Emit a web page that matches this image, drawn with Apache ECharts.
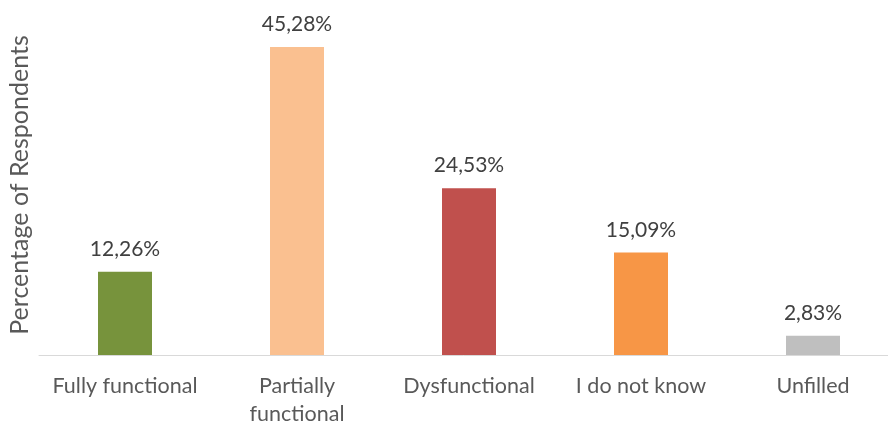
<!DOCTYPE html>
<html>
<head>
<meta charset="utf-8">
<script src="https://cdn.jsdelivr.net/npm/echarts@6/dist/echarts.min.js"></script>
<style>
  html, body { margin: 0; padding: 0; background: #fff; }
  #chart { width: 888px; height: 428px; }
</style>
</head>
<body>
<div id="chart"></div>
<script>
// Status of the system as reported by respondents
const categories = ['Fully functional', 'Partially\nfunctional', 'Dysfunctional', 'I do not know', 'Unfilled'];
const shares = [12.26, 45.28, 24.53, 15.09, 2.83];
const barColors = ['#77933C', '#FAC090', '#C0504D', '#F79646', '#BFBFBF'];

const FONT = 'Lato, "Open Sans", sans-serif';

const chart = echarts.init(document.getElementById('chart'), null, { renderer: 'canvas' });

chart.setOption({
  animation: false,
  grid: { left: 39, top: 15, width: 860, height: 340, containLabel: false, outerBoundsMode: 'none' },
  xAxis: {
    type: 'category',
    data: categories,
    axisLine: { lineStyle: { color: '#D9D9D9', width: 1 } },
    axisTick: { show: false },
    axisLabel: {
      color: '#595959',
      fontFamily: FONT,
      fontSize: 21.5,
      lineHeight: 28,
      margin: 17,
      interval: 0
    }
  },
  yAxis: {
    type: 'value',
    min: 0,
    max: 50,
    name: 'Percentage of Respondents',
    nameLocation: 'middle',
    nameGap: 7,
    nameTextStyle: { color: '#595959', fontFamily: FONT, fontSize: 25 },
    axisLine: { show: false },
    axisTick: { show: false },
    axisLabel: { show: false },
    splitLine: { show: false }
  },
  series: [{
    type: 'bar',
    barWidth: 54,
    data: shares.map((v, i) => ({ value: v, itemStyle: { color: barColors[i] } })),
    label: {
      show: true,
      position: 'top',
      distance: 12,
      color: '#404040',
      fontFamily: FONT,
      fontSize: 21,
      formatter: p => p.value.toFixed(2).replace('.', ',') + '%'
    }
  }]
});
</script>
</body>
</html>
